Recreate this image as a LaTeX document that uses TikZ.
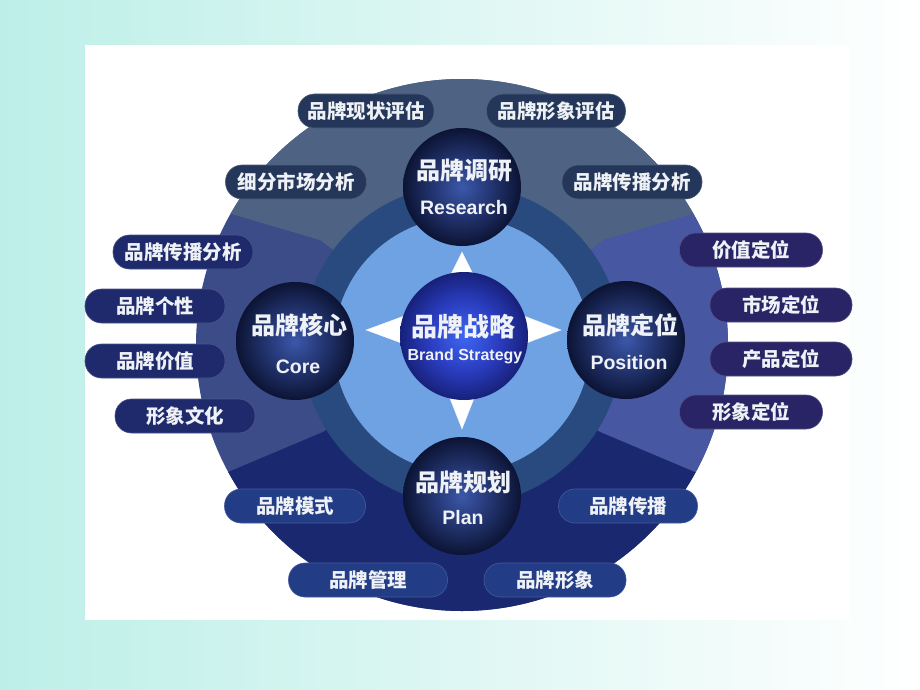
\documentclass[tikz,border=0pt]{standalone}
\usepackage{fontspec}
\newfontfamily\cjk{Noto Sans CJK SC}
\newfontfamily\lat{Liberation Sans}
\usetikzlibrary{shapes.geometric}
\definecolor{bgL}{HTML}{BDEFE8}
\definecolor{bgM}{HTML}{DCEFF8}
\definecolor{bgB}{HTML}{CFE5F7}
\definecolor{topsec}{HTML}{4E6383}
\definecolor{leftsec}{HTML}{3C4C88}
\definecolor{rightsec}{HTML}{4757A2}
\definecolor{botsec}{HTML}{1A296F}
\definecolor{ringc}{HTML}{294A7E}
\definecolor{lightc}{HTML}{6FA2E2}
\definecolor{pilltop}{HTML}{243659}
\definecolor{pillleft}{HTML}{1E2A6C}
\definecolor{pillright}{HTML}{282465}
\definecolor{pillbot}{HTML}{223C86}
\definecolor{txt}{HTML}{EEF1F6}
\definecolor{ballA}{HTML}{3C58AA}
\definecolor{ballB}{HTML}{22336E}
\definecolor{ballC}{HTML}{0C1434}
\definecolor{cenA}{HTML}{3E66F2}
\definecolor{cenB}{HTML}{2A3CBE}
\definecolor{cenC}{HTML}{17217A}
\pgfdeclareradialshading{darkball}{\pgfpoint{0bp}{0bp}}{color(0bp)=(ballA); color(13bp)=(ballB); color(25bp)=(ballC); color(50bp)=(ballC)}
\pgfdeclareradialshading{blueball}{\pgfpoint{0bp}{0bp}}{color(0bp)=(cenA); color(14bp)=(cenB); color(25bp)=(cenC); color(50bp)=(cenC)}
\tikzset{
  pillbox/.style={rectangle, rounded corners=16.5pt, minimum height=34pt, inner sep=0pt, text=txt, font=\cjk\bfseries\fontsize{19.5}{19.5}\selectfont},
  ptop/.style={pillbox, fill=pilltop, draw=pilltop!80!white, line width=0.6pt},
  pleft/.style={pillbox, fill=pillleft, draw=pillleft!80!white, line width=0.6pt},
  pright/.style={pillbox, fill=pillright, draw=pillright!80!white, line width=0.6pt},
  pbot/.style={pillbox, fill=pillbot, draw=pillbot!85!white, line width=0.6pt},
  sphere/.style={circle, inner sep=0pt, minimum size=118pt, shading=darkball},
  cnball/.style={circle, inner sep=0pt, minimum size=128pt, shading=blueball},
  cnlabel/.style={inner sep=0pt, text=txt, font=\cjk\bfseries\fontsize{24}{24}\selectfont},
  enlabel/.style={inner sep=0pt, text=txt, font=\lat\bfseries\fontsize{19.5}{19.5}\selectfont},
  arrowtri/.style={fill=white, draw=white!85!lightc, line width=0.4pt}
}
\begin{document}
\begin{tikzpicture}[x=1pt,y=-1pt]
\useasboundingbox (0,0) rectangle (920,690);
% background
\fill[left color=bgL, right color=white] (0,0) rectangle (920,690);
\fill[left color=bgL, middle color=bgB, right color=white] (0,620) rectangle (920,690);
\fill[left color=bgL, middle color=bgM, right color=white] (0,0) rectangle (920,45);
\fill[white] (85,45) rectangle (850,620);
% sectors
\begin{scope}
\clip (462,345) circle[radius=266pt];
\fill[leftsec] (150,40) rectangle (780,700);
\fill[topsec] (462,345) -- (320,240) -- (150,190) -- (150,40) -- (780,40) -- (780,189) -- (604,240) -- cycle;
\fill[rightsec] (462,345) -- (604,240) -- (780,189) -- (780,508) -- (600,432) -- cycle;
\fill[botsec] (462,345) -- (600,432) -- (780,508) -- (780,700) -- (150,700) -- (150,505) -- (323,432) -- cycle;
\end{scope}
% ring and light disk
\fill[ringc] (462,345) circle[radius=160pt];
\fill[lightc] (462,345) circle[radius=128pt];
% triangles
\filldraw[arrowtri] (462,252) -- (449,278) -- (475,278) -- cycle;
\filldraw[arrowtri] (462,429) -- (449,396) -- (475,396) -- cycle;
\filldraw[arrowtri] (366,330) -- (404,316) -- (404,344) -- cycle;
\filldraw[arrowtri] (561,330) -- (524,316) -- (524,344) -- cycle;
% balls
\node[sphere] (research) at (462,187) {};
\node[sphere] (core) at (295,341) {};
\node[sphere] (position) at (626,340) {};
\node[sphere] (plan) at (462,496) {};
\node[cnball] (strategy) at (464,336) {};
% ball labels
\node[cnlabel] (researchcn) at (464,170) {品牌调研};
\node[enlabel] (researchen) at (464,208) {Research};
\node[cnlabel] (corecn) at (299,325) {品牌核心};
\node[enlabel] (coreen) at (298,367) {Core};
\node[cnlabel] (positioncn) at (630,325) {品牌定位};
\node[enlabel] (positionen) at (629,363) {Position};
\node[cnlabel] (plancn) at (463,482) {品牌规划};
\node[enlabel] (planen) at (463,518) {Plan};
\node[cnlabel, font=\cjk\bfseries\fontsize{26}{26}\selectfont] (strategycn) at (463,327) {品牌战略};
\node[enlabel, font=\lat\bfseries\fontsize{16}{16}\selectfont] (strategyen) at (465,356) {Brand Strategy};
% top pills
\node[ptop, minimum width=136pt] (t1) at (366,111) {品牌现状评估};
\node[ptop, minimum width=139pt] (t2) at (556,111) {品牌形象评估};
\node[ptop, minimum width=141pt] (t3) at (296,182) {细分市场分析};
\node[ptop, minimum width=140pt] (t4) at (632,182) {品牌传播分析};
% left pills
\node[pleft, minimum width=140pt] (l1) at (183,252) {品牌传播分析};
\node[pleft, minimum width=140pt] (l2) at (155,306) {品牌个性};
\node[pleft, minimum width=140pt] (l3) at (155,361) {品牌价值};
\node[pleft, minimum width=140pt] (l4) at (185,416) {形象文化};
% right pills
\node[pright, minimum width=143pt] (r1) at (751,250) {价值定位};
\node[pright, minimum width=142pt] (r2) at (781,305) {市场定位};
\node[pright, minimum width=142pt] (r3) at (781,359) {产品定位};
\node[pright, minimum width=143pt] (r4) at (751,412) {形象定位};
% bottom pills
\node[pbot, minimum width=141pt] (b1) at (295,506) {品牌模式};
\node[pbot, minimum width=139pt] (b2) at (628,506) {品牌传播};
\node[pbot, minimum width=159pt] (b3) at (368,580) {品牌管理};
\node[pbot, minimum width=142pt] (b4) at (555,580) {品牌形象};
\end{tikzpicture}
\end{document}
